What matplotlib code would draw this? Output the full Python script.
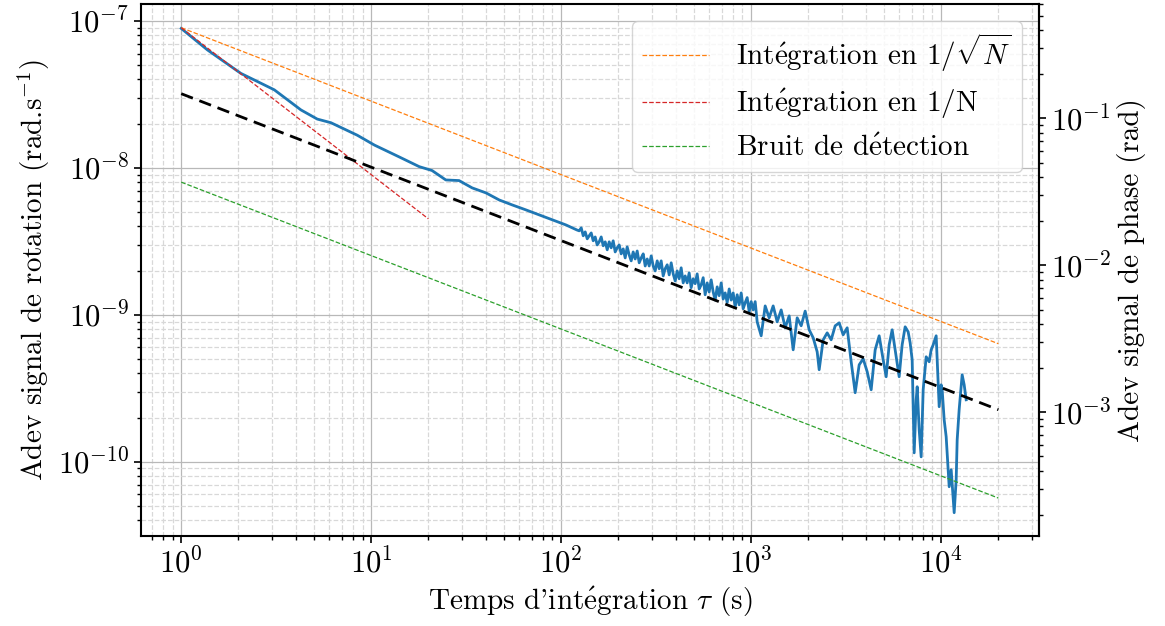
import numpy as np
import matplotlib.pyplot as plt
from matplotlib.ticker import NullFormatter

plt.rcParams['font.family'] = ['cmr10', 'DejaVu Serif']
plt.rcParams['mathtext.fontset'] = 'cm'
plt.rcParams['axes.formatter.use_mathtext'] = True

tau = [1.0, 1.375, 2.06, 3.09, 4.27, 5.2, 6.14, 8.44, 10.4, 14.0, 17.9, 20.9, 24.7, 29.0,
       34.0, 40.2, 47.2, 55.2, 65.2, 76.6, 89.7, 106, 121,
       124.4, 127.5, 130.6, 133.8, 137.1, 140.4, 143.9, 147.4, 151.0, 154.7, 158.5, 162.4,
       166.4, 170.5, 174.7, 178.9, 183.3, 187.8, 192.4, 197.1, 202.0, 206.9, 212.0, 217.2,
       222.5, 228.0, 233.6, 239.3, 245.2, 251.2, 257.4, 263.7, 270.2, 276.8, 283.6, 290.5,
       297.7, 305.0, 312.4, 320.1, 328.0, 336.0, 344.3, 352.7, 361.4, 370.2, 379.3, 388.6,
       398.2, 407.9, 417.9, 428.1, 438.7, 449.4, 460.4, 471.7, 483.3, 495.1, 507.3, 519.7,
       532.5, 545.5, 558.9, 572.6, 586.7, 601.0, 615.8, 631.0, 646.4, 662.3, 678.5, 695.2,
       712.2, 729.7, 747.6, 766.0, 784.8, 804.0, 823.7, 843.9, 864.6, 885.9, 907.6, 929.8,
       952.6, 976.0, 1000, 1024.5, 1049.6,
       1075.4, 1128.8, 1184.9,
       1243.6, 1305.4, 1370.3, 1438.4, 1509.9, 1584.9, 1663.6, 1746.3, 1833.0, 1924.0,
       2019.6, 2119.9, 2225.2, 2279.8, 2393.0, 2511.9, 2636.7, 2767.7, 2905.1, 3049.5,
       3200.9, 3359.9, 3526.8, 3702.0, 3885.9, 4079.0, 4281.6, 4494.3, 4717.5, 4951.9,
       5134.6, 5325, 5522, 5726, 6010, 6232, 6463, 6702, 6866, 7036, 7210, 7388, 7478,
       7661, 7848, 8040, 8339, 8648, 8859, 9078, 9412, 9761, 10000, 10122, 10371, 10625,
       11019, 11290, 11707, 11994, 12141, 12435, 12897, 13216, 13540]
adev = [8.9e-8, 6.35e-8, 4.40e-8, 3.40e-8, 2.48e-8, 2.15e-8, 2.03e-8, 1.67e-8, 1.43e-8,
        1.19e-8, 1.02e-8, 9.6e-9, 8.28e-9, 8.2e-9, 7.31e-9, 6.76e-9, 6.05e-9, 5.6e-9,
        5.18e-9, 4.79e-9, 4.43e-9, 4.09e-9, 3.78e-9,
        3.73e-9, 3.91e-9, 3.45e-9, 3.67e-9, 3.29e-9, 3.45e-9, 3.61e-9, 3.19e-9, 3.39e-9,
        2.99e-9, 3.14e-9, 3.39e-9, 2.95e-9, 3.14e-9, 2.77e-9, 3.14e-9, 2.86e-9, 3.19e-9,
        2.68e-9, 2.86e-9, 2.99e-9, 2.60e-9, 2.81e-9, 2.44e-9, 2.90e-9, 2.56e-9, 2.33e-9,
        2.68e-9, 2.40e-9, 2.72e-9, 2.26e-9, 2.44e-9, 2.60e-9, 2.15e-9, 2.40e-9, 2.15e-9,
        2.52e-9, 2.15e-9, 1.99e-9, 2.33e-9, 2.06e-9, 2.33e-9, 1.84e-9, 2.06e-9, 2.19e-9,
        1.87e-9, 2.26e-9, 1.90e-9, 1.70e-9, 1.99e-9, 1.76e-9, 2.09e-9, 1.65e-9, 1.84e-9,
        1.65e-9, 1.93e-9, 1.53e-9, 1.76e-9, 1.63e-9, 1.90e-9, 1.50e-9, 1.60e-9, 1.79e-9,
        1.37e-9, 1.65e-9, 1.43e-9, 1.73e-9, 1.43e-9, 1.26e-9, 1.55e-9, 1.35e-9, 1.65e-9,
        1.28e-9, 1.41e-9, 1.21e-9, 1.50e-9, 1.26e-9, 1.41e-9, 1.13e-9, 1.37e-9, 1.17e-9,
        1.41e-9, 1.10e-9, 1.21e-9, 1.31e-9, 1.05e-9, 1.23e-9, 1.08e-9, 1.23e-9,
        8.96e-10, 7.20e-10, 1.15e-9,
        9.54e-10, 1.15e-9, 8.96e-10, 1.08e-9, 8.16e-10, 9.84e-10,
        5.78e-10, 9.54e-10, 8.42e-10, 1.06e-9, 7.91e-10, 6.98e-10, 5.60e-10, 4.23e-10,
        6.76e-10, 7.54e-10, 6.76e-10, 8.42e-10, 8.82e-10, 7.31e-10, 8.16e-10, 4.79e-10,
        2.95e-10, 4.57e-10, 5.02e-10, 4.10e-10, 3.09e-10, 5.78e-10, 7.20e-10, 4.94e-10,
        3.79e-10, 6.25e-10, 7.91e-10, 5.78e-10, 3.79e-10, 6.25e-10, 8.29e-10, 7.66e-10,
        6.45e-10, 4.94e-10, 1.15e-10, 2.64e-10, 3.24e-10, 1.65e-10, 1.08e-10, 3.09e-10,
        5.18e-10, 4.79e-10, 5.78e-10, 6.25e-10, 7.20e-10, 2.37e-10, 3.34e-10, 3.09e-10,
        1.93e-10, 1.48e-10, 6.76e-11, 8.82e-11, 4.50e-11, 7.54e-11, 1.41e-10, 2.26e-10,
        3.91e-10, 3.34e-10, 2.64e-10]

# reference slopes (end points)
tau_ref = [1, 2e4]
sqrt_n = [9e-8, 6.36e-10]
fit_black = [3.2e-8, 2.26e-10]
detection = [8e-9, 5.66e-11]
tau_n = [1, 20]
one_over_n = [9e-8, 4.5e-9]

phase_factor = 4.6e6  # rad.s^-1 -> rad

E = r'$\mathrm{\acute{e}}$'
FS = 21

fig = plt.figure(figsize=(11.65, 6.26), dpi=100)
ax = fig.add_axes([0.121, 0.143, 0.771, 0.851])

ax.loglog(tau, adev, color='#1f77b4', lw=2.0)
l1, = ax.loglog(tau_ref, sqrt_n, '--', color='#ff7f0e', lw=0.9,
                label='Int' + E + r'gration en $1/\sqrt{N}$')
l2, = ax.loglog(tau_n, one_over_n, '--', color='#d62728', lw=0.9,
                label='Int' + E + 'gration en 1/N')
l3, = ax.loglog(tau_ref, detection, '--', color='#2ca02c', lw=0.9,
                label='Bruit de d' + E + 'tection')
ax.loglog(tau_ref, fit_black, '--', color='black', lw=2.0, dashes=(4.5, 2.5))

ax.set_xlim(0.614, 32800)
ax.set_ylim(3.1e-11, 1.31e-7)
ax.set_xticks([1, 10, 100, 1000, 10000])
ax.set_yticks([1e-10, 1e-9, 1e-8, 1e-7])
ax.xaxis.set_minor_formatter(NullFormatter())
ax.yaxis.set_minor_formatter(NullFormatter())

ax.grid(True, which='major', color='#b8b8b8', lw=0.9, ls='-')
ax.grid(True, which='minor', color='#d8d8d8', lw=0.9, ls='--')

for s in ax.spines.values():
    s.set_linewidth(1.5)
ax.tick_params(which='major', labelsize=22, width=1.2, length=5)
ax.tick_params(which='minor', width=1.0, length=3)

ax.set_xlabel("Temps d'int" + E + r'gration $\tau$ (s)', fontsize=FS)
ax.set_ylabel(r'Adev signal de rotation (rad.s$^{-1}$)', fontsize=FS)

ax2 = ax.secondary_yaxis('right', functions=(lambda y: y * phase_factor,
                                             lambda p: p / phase_factor))
ax2.set_yscale('log')
ax2.set_yticks([1e-3, 1e-2, 1e-1])
ax2.spines['right'].set_linewidth(1.5)
ax2.yaxis.set_minor_formatter(NullFormatter())
ax2.tick_params(which='major', labelsize=22, width=1.2, length=5)
ax2.tick_params(which='minor', width=1.0, length=3)
ax2.set_ylabel('Adev signal de phase (rad)', fontsize=FS)

ax.legend(handles=[l1, l2, l3], loc='upper right', fontsize=FS,
          handlelength=2.3, handletextpad=0.9, borderpad=0.35,
          labelspacing=0.45, borderaxespad=0.6)

fig.savefig('out.png', dpi=100)
